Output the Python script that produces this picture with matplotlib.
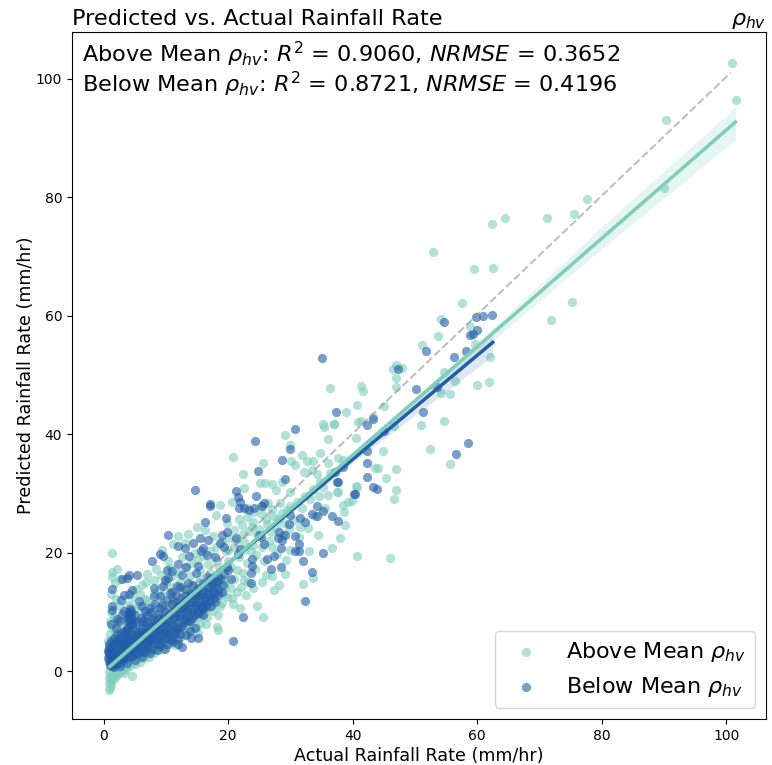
import numpy as np
import matplotlib
matplotlib.use('Agg')
import matplotlib.pyplot as plt

# values, (actual, predicted)
above_high = [(101.0,102.7),(101.5,96.5),(90.3,93.0),(90.0,81.5),(77.6,79.7),(75.6,77.2),(71.2,76.5),(75.2,62.3),(71.9,59.3),
    (64.5,76.5),(62.3,75.4),(52.9,70.8),(59.5,67.9),(62.6,68.1),(57.6,62.1),(54.2,59.4),(53.7,56.6),(51.2,55.1),(58.9,58.2),
    (59.6,55.2),(62.0,53.1),(61.9,48.8),(60.0,48.3),(56.5,49.0),(55.6,46.7),(54.2,47.0),(54.6,50.5),(47.0,51.7),(46.5,51.0),
    (47.9,51.2),(47.0,49.4),(46.9,48.0),(41.3,48.2),(41.6,47.2),(36.4,47.8),(40.7,44.9),(45.0,44.8),(39.0,43.8),(37.0,41.7),
    (41.3,42.2),(43.2,42.9),(46.6,41.4),(50.9,41.6),(54.7,42.2),(40.6,39.4),(44.9,37.2),(52.4,37.5),(55.6,35.0),(43.6,34.3),
    (44.0,34.3),(47.0,34.1),(45.3,32.6),(40.6,31.2),(46.9,30.5),(37.5,30.2),(46.6,29.0),(46.0,19.1)]
above_mid = [(20.7,36.2),(25.6,35.2),(22.3,33.2),(29.1,39.9),(30.0,38.2),(31.8,36.5),(34.7,36.8),(36.0,39.1),(35.3,41.7),(35.4,41.2),
    (37.0,41.7),(40.9,42.1),(30.1,35.4),(32.7,35.5),(33.7,35.4),(36.1,35.1),(37.7,35.9),(38.5,35.6),(30.8,34.8),(32.1,33.6),
    (33.4,34.0),(34.2,33.3),(34.8,32.0),(25.1,31.7),(25.9,31.8),(27.0,31.5),(27.6,30.5),(22.5,30.9),(28.6,32.0),(30.0,30.3),
    (36.0,29.7),(37.6,30.3),(40.7,31.1),(39.9,28.7),(39.3,28.6),(38.5,28.0),(38.6,26.9),(38.8,24.7),(38.0,22.5),(36.7,20.8),
    (40.7,19.5),(33.0,20.2),(29.3,18.7),(29.1,16.3),(33.7,15.7),(32.0,14.7),(28.1,14.5),(27.4,13.7),(25.4,15.0),(26.0,16.2),
    (27.0,16.1),(24.0,14.0),(24.7,11.0),(25.6,9.2),(18.4,9.5),(16.4,7.9),(18.2,7.5),(18.4,6.9),(15.2,6.4),(11.5,4.4),(4.6,-0.8),
    (3.2,-0.4),(18.7,28.0),(18.0,26.4),(20.6,28.6),(13.1,21.6),(9.3,20.4),(10.4,18.5),(1.3,19.9),(2.1,17.3),(1.4,16.8),(1.3,15.9),
    (1.8,14.8),(2.6,15.6),(1.1,13.0),(1.9,12.2),(2.4,11.0),(1.2,10.0),(1.7,9.2),(1.0,8.5),(23.0,26.0),(24.0,25.2),(25.5,26.5),
    (27.0,27.4),(28.3,28.3),(29.5,27.2),(26.2,24.8),(23.4,23.6),(22.2,24.6),(21.0,23.8),(19.8,25.0),(20.2,22.4),(22.5,21.8),
    (24.6,22.9),(26.5,22.0),(28.0,25.6),(30.5,25.5),(31.8,27.5),(33.2,29.0),(34.6,29.6),(32.8,24.2),(34.5,23.0),(31.4,22.6),
    (30.0,20.5),(27.8,19.8),(25.8,18.6),(23.7,20.2),(21.8,19.2),(20.5,17.5),(22.4,16.5),(24.3,17.2),(21.0,15.5),(19.5,14.2),
    (21.4,13.4),(22.8,12.8),(20.6,12.3),(19.0,11.5),(21.9,10.6),(23.2,15.0),(17.5,22.8),(16.2,23.8),(15.0,24.4),(13.5,23.2),
    (12.0,22.8),(11.2,21.4),(14.6,20.0),(12.6,19.3),(8.4,17.2),(7.0,16.4),(6.2,14.6),(5.2,13.8),(4.6,12.5),(3.8,11.2),(6.6,12.2),
    (22.4,23.2),(23.8,24.4),(25.0,24.0),(26.0,25.6),(27.2,26.2),(28.6,26.6),(30.0,27.8),(31.0,28.6),(32.4,29.6),(33.6,30.8),(35.2,31.0),
    (36.4,33.4),(24.2,26.8),(25.2,27.8),(26.4,28.4),(21.8,25.6),(23.0,27.6),(34.0,26.2),(35.6,27.6),(31.6,24.4),(28.8,23.0),(27.0,21.0)]
above_low = [(0.9,-3.2),(1.0,-2.8),(1.1,-2.4),(0.9,-2.0),(1.2,-1.6),(0.8,-1.2),(1.3,-1.0),(1.0,-0.6),(1.5,-0.3),(0.8,0.0),
    (1.9,-0.5),(2.2,0.0),(1.2,0.3),(2.8,0.2),(3.5,0.4),(4.2,0.8),(5.0,1.2),(3.0,1.0),(5.8,1.6),(6.5,2.2),(7.2,2.4),(8.0,3.0),
    (8.8,3.5),(9.6,3.8),(10.5,4.6),(11.0,5.2),(12.2,5.6),(13.0,6.2),(13.8,7.0),(14.8,7.4),(15.5,8.0),(16.6,9.2),(17.5,10.2),
    (18.6,11.0),(19.8,12.5),(6.0,3.0),(7.5,4.0),(9.0,5.0),(10.0,6.2),(11.5,7.2),(12.8,8.2),(14.0,9.0),(15.2,10.0),(16.3,11.2),
    (17.4,12.2),(18.5,13.2),(19.5,15.0),(0.8,2.0),(0.7,3.5),(0.7,5.0),(1.0,6.2),(1.3,7.2),(2.0,6.5),(2.5,8.0),(3.2,8.6),(4.0,9.5),
    (5.0,10.5),(5.8,11.0),(7.0,12.0),(8.0,13.2),(9.0,14.0),(10.0,15.0),(11.0,16.0),(12.0,16.5),(13.0,17.5),(14.0,18.2),(15.0,18.8),
    (16.0,19.5),(17.0,20.2),(18.0,21.0),(19.0,21.8),(20.0,20.5),(21.0,21.0),(8.0,10.0),(9.5,11.5),(11.0,12.5),(12.5,13.5),(14.0,14.5),
    (15.5,15.5),(17.0,16.5),(18.5,17.5),(20.0,18.5),(6.5,7.0),(5.0,6.0),(3.5,4.0),(2.0,3.0),(4.5,2.5),(7.0,5.5),(8.5,7.0),(10.0,8.5),
    (11.5,9.8),(13.0,11.0),(14.5,12.0),(16.0,13.0),(17.5,14.0),(19.0,15.5),
    (1.6,-1.4),(2.0,-0.9),(2.5,-0.4),(3.0,0.0),(3.8,0.9),(4.8,1.6),(5.6,2.2),(6.8,2.8),(7.8,3.5),(9.2,4.4),(10.2,5.2),(11.2,6.0),
    (12.4,6.8),(13.4,7.8),(14.4,8.6),(15.4,9.2),(16.2,10.0),(17.0,10.8),(18.0,12.0),(19.2,13.0),(20.4,14.0),(20.8,11.4),(22.0,14.2),
    (22.6,15.4),(21.4,17.0),(23.0,18.2),(24.5,19.6),(22.6,20.4),(24.0,21.2),(25.4,21.0),(26.8,23.4),(27.6,24.4),(29.0,25.0),
    (29.8,24.0),(21.2,22.2),(19.6,20.2),(18.2,18.8),(16.8,18.0),(15.4,17.0),(13.8,16.0),(12.2,15.0),(10.8,14.2),(9.4,12.8),(7.8,11.2),
    (6.4,9.8),(5.2,8.4),(3.8,6.8),(2.6,5.0),(1.4,4.0),(6.8,15.0),(8.0,15.4),(9.2,16.2),(10.6,17.4),(5.8,13.0),(4.4,11.0)]
below_high = [(62.3,60.1),(60.9,60.0),(59.8,59.8),(54.7,58.9),(60.0,57.5),(59.3,56.9),(58.9,56.7),(51.7,54.0),(58.2,54.1),(56.3,53.0),
    (47.3,51.0),(50.2,47.6),(53.6,48.0),(51.3,43.8),(37.3,43.8),(43.3,42.6),(42.3,41.6),(45.1,40.5),(58.6,38.5),(56.6,36.7),(42.3,37.2),
    (42.3,35.2),(38.4,34.4),(37.1,33.6),(42.3,32.8),(37.5,32.0),(43.3,31.0),(43.9,30.8),(40.2,29.9),(35.0,52.9)]
below_mid = [(30.7,40.9),(24.3,38.9),(30.0,37.5),(28.6,35.6),(24.8,33.7),(29.1,32.5),(37.6,32.0),(14.7,30.5),(21.3,30.4),(21.5,29.4),
    (24.4,29.6),(40.3,29.9),(17.0,28.2),(17.0,27.8),(21.9,28.6),(21.7,27.5),(22.5,27.5),(23.3,27.2),(24.1,27.6),(25.8,28.3),(25.4,27.9),
    (34.3,27.9),(35.3,27.1),(33.4,26.5),(34.3,26.1),(36.7,26.1),(37.6,25.4),(19.6,25.9),(16.3,25.1),(30.0,26.4),(31.6,25.8),(32.4,25.1),
    (29.7,24.8),(10.4,23.0),(15.5,22.5),(16.7,22.2),(14.4,21.6),(12.0,21.1),(13.0,20.8),(16.0,20.7),(15.7,20.3),(13.7,19.4),(9.1,19.8),
    (9.6,19.4),(16.6,19.6),(17.8,19.3),(19.0,23.0),(19.8,23.4),(18.7,21.6),(19.3,21.0),(21.3,22.5),(25.0,23.0),(25.3,22.6),(28.1,23.5),
    (28.0,22.4),(29.2,23.0),(30.7,22.8),(28.6,22.1),(25.7,21.5),(21.9,20.6),(21.5,19.8),(28.5,20.8),(31.3,21.5),(30.7,20.2),(31.3,20.3),
    (35.3,20.0),(27.4,19.5),(26.3,18.9),(23.8,19.0),(23.8,17.7),(26.9,17.3),(28.5,17.5),(32.0,18.5),(23.6,16.6),(33.4,16.8),(23.6,14.8),
    (32.4,11.9),(22.3,9.2),(20.7,5.1),(14.0,5.5),(14.7,7.2),(16.0,9.4),(12.0,18.1),(13.2,17.5),(15.2,17.8),(7.8,18.6),(10.1,17.1),
    (10.9,16.9),(12.5,16.2),(14.8,16.5),(16.8,15.9),(19.8,17.6),(18.4,15.9),(18.2,15.1),(9.9,15.4),(10.4,15.7),(11.7,14.4),(13.5,14.8),
    (8.1,14.1),(9.6,14.4),(4.1,16.2),(5.4,16.2),(3.0,15.5),(3.7,15.7),(1.4,13.9),(4.6,13.7),(4.0,13.0),(3.2,12.8),(2.7,12.0),(1.3,10.9),
    (1.4,10.3),(2.1,8.8),(5.7,11.8),(6.1,11.0)]
below_low = [(4.2,10.5),(4.0,10.0),(4.4,9.6),(4.1,9.1),(4.5,8.7),(3.9,8.3),(4.3,7.9),(4.6,7.4),(3.8,7.2),(3.2,6.8),(2.7,6.4),(2.2,6.0),
    (1.7,5.5),(1.2,5.0),(0.9,4.5),(0.8,4.0),(0.7,3.4),(0.8,2.8),(0.7,2.2),(0.9,1.6),(1.0,1.1),(1.4,0.9),(1.9,1.2),(2.4,1.4),(1.5,2.0),
    (2.0,2.4),(2.6,2.0),(3.1,1.8),(3.6,2.4),(1.6,3.0),(2.2,3.4),(2.8,3.0),(3.3,3.5),(4.0,3.0),(4.6,2.6),(5.2,2.8),(1.8,4.2),(2.5,4.5),
    (3.2,4.3),(3.8,4.0),(4.5,3.8),(5.2,3.6),(5.9,3.2),(6.4,3.6),(2.9,5.2),(3.5,5.5),(4.1,5.0),(4.8,4.6),(5.5,4.4),(6.2,4.2),(7.0,4.0),
    (7.6,4.6),(3.9,6.2),(4.6,6.0),(5.3,5.6),(6.0,5.2),(6.7,5.0),(7.4,5.2),(8.2,4.8),(8.9,4.6),(9.5,5.0),(5.0,7.0),(5.7,6.8),(6.4,6.4),
    (7.1,6.2),(7.8,6.0),(8.5,5.8),(9.2,5.8),(10.0,5.6),(10.8,5.2),(6.0,8.2),(6.8,7.8),(7.5,7.5),(8.2,7.2),(9.0,7.0),(9.8,6.8),(10.6,6.6),
    (11.4,6.4),(12.2,6.2),(7.0,9.4),(7.8,9.0),(8.6,8.6),(9.4,8.2),(10.2,8.0),(11.0,7.8),(11.8,7.5),(12.6,7.6),(6.6,10.2),(8.2,11.4),
    (9.0,10.6),(9.8,10.0),(10.6,9.6),(11.4,9.2),(12.2,9.0),(13.0,8.8),(13.8,8.5),(8.0,12.6),(9.1,12.6),(10.2,12.0),(11.0,11.4),(11.8,11.0),
    (12.6,10.6),(13.4,10.2),(14.2,10.0),(15.0,9.8),(15.8,10.4),(10.6,13.2),(11.6,12.8),(12.4,12.4),(13.2,12.0),(14.0,11.6),(14.8,11.2),
    (15.6,11.0),(16.4,10.8),(17.2,11.0),(12.2,14.2),(13.0,13.8),(13.8,13.2),(14.6,12.8),(15.4,12.4),(16.2,12.0),(17.0,12.2),(17.8,11.6),
    (14.4,14.6),(15.2,14.0),(16.0,13.6),(16.8,13.4),(17.6,13.0),(18.4,12.8),(19.0,13.4),(17.4,14.8),(18.0,14.2),(8.8,9.8),(7.4,10.6),
    (6.0,9.0),(5.3,8.2),(1.9,7.2),(1.2,8.0),(3.0,9.6),(2.4,8.4),(5.0,9.4),(3.2,10.2),(12.0,4.6),(11.2,4.9),(9.8,3.8),(8.6,3.6),(7.4,3.0),
    (6.2,2.4),(5.0,1.8),(3.8,1.4),(2.6,0.9),(1.7,0.6),(12.6,4.0),(15.2,5.6),(13.8,6.8),(20.0,17.0),(20.4,15.6),(19.4,16.4)]
below_core = [(1.1,1.4),(1.3,1.8),(1.5,1.2),(1.7,2.2),(1.9,1.6),(2.1,2.8),(2.3,2.0),(2.5,3.2),(2.7,2.4),(2.9,3.8),(3.1,2.6),(3.3,4.4),
    (3.5,3.0),(3.7,4.8),(3.9,3.4),(4.1,5.4),(4.3,3.6),(4.5,5.0),(4.7,4.2),(4.9,5.8),(5.1,4.0),(5.3,6.2),(5.5,5.0),(5.7,4.4),(5.9,6.0),
    (6.1,5.6),(6.3,4.6),(6.5,6.6),(6.7,5.6),(6.9,4.8),(7.1,7.0),(7.3,6.0),(7.5,5.4),(7.7,7.4),(7.9,6.4),(8.1,5.4),(8.3,7.8),(8.5,6.8),
    (8.7,5.2),(8.9,8.2),(9.1,7.2),(9.3,6.2),(9.5,8.8),(9.7,7.6),(9.9,6.4),(10.1,9.0),(10.3,7.4),(10.5,6.0),(10.7,9.4),(10.9,8.2),(11.1,6.8),
    (11.3,10.0),(11.5,8.6),(11.7,7.0),(11.9,10.4),(12.1,9.4),(12.3,7.4),(12.5,10.8),(12.7,9.6),(12.9,8.2),(13.1,11.2),(13.3,9.8),(13.5,8.4),
    (13.7,11.6),(13.9,10.4),(14.1,9.0),(14.3,12.2),(14.5,10.8),(14.7,9.4),(14.9,12.6),(15.1,11.2),(15.3,9.8),(15.5,13.0),(15.7,11.8),
    (15.9,10.6),(16.1,13.4),(16.3,12.4),(16.5,11.4),(16.7,14.2),(16.9,12.8),(17.1,11.8),(17.3,14.6),(17.5,13.4),(17.7,12.4),(18.1,15.2),
    (18.3,13.6),(18.7,15.6),(19.1,14.6),(3.0,5.8),(3.4,6.4),(3.6,6.8),(4.0,7.4),(4.2,8.4),(4.4,9.0),(4.0,9.6),(4.3,10.2),(3.8,9.0),(4.6,8.0),
    (1.2,3.4),(1.4,4.0),(1.0,2.4),(0.9,3.2),(1.6,4.6),(2.0,5.0),(2.4,5.4),(2.8,4.6),(3.4,2.2),(4.2,2.4),(5.4,3.0),(6.6,3.2),(7.8,3.8),(9.0,4.2),
    (10.2,4.6),(11.0,5.6),(12.0,5.4),(13.2,6.0),(6.2,7.2),(7.0,8.2),(8.0,8.6),(8.8,9.0),(9.6,9.2),(10.4,10.4),(11.2,11.8),(12.0,11.6),(13.0,12.6),
    (14.0,13.0),(15.0,13.4),(16.0,14.8),(17.0,15.6),(11.0,13.4),(9.4,11.2),(7.6,10.0),(6.4,8.6)]

# fit lines and 95% bands
above_line_x = [1.0, 101.5]
above_line_y = [0.8, 92.7]
above_band_x = [1.0, 30.0, 60.0, 80.0, 101.5]
above_band_lo = [0.4, 27.0, 53.6, 71.3, 89.7]
above_band_hi = [1.2, 27.9, 55.4, 75.0, 95.2]
below_line_x = [1.0, 62.5]
below_line_y = [1.5, 55.5]
below_band_x = [1.0, 20.0, 40.0, 62.5]
below_band_lo = [1.0, 18.0, 35.2, 53.2]
below_band_hi = [2.0, 18.7, 36.6, 57.0]
ref_x = [0.5, 100.7]
ref_y = [0.5, 101.0]

x_ticks = [0, 20, 40, 60, 80, 100]
green = '#7fcdbb'
blue = '#225ea8'

above = np.array(above_high + above_mid + above_low)
below = np.array(below_high + below_mid + below_low + below_core)

fig = plt.figure(figsize=(7.72, 7.65), dpi=100)
ax = fig.add_axes([72 / 772, 46 / 765, 694 / 772, 687 / 765])

ax.scatter(above[:, 0], above[:, 1], s=44, color=green, alpha=0.6, linewidths=0, label=r'Above Mean $\rho_{hv}$')
ax.scatter(below[:, 0], below[:, 1], s=44, color=blue, alpha=0.6, linewidths=0, label=r'Below Mean $\rho_{hv}$')

ax.plot(ref_x, ref_y, color='gray', alpha=0.5, ls='--', lw=1.5)
ax.fill_between(below_band_x, below_band_lo, below_band_hi, color=blue, alpha=0.15, lw=0)
ax.plot(below_line_x, below_line_y, color=blue, lw=2.5)
ax.fill_between(above_band_x, above_band_lo, above_band_hi, color=green, alpha=0.2, lw=0)
ax.plot(above_line_x, above_line_y, color=green, lw=2.5)

ax.set_xlim(-5.1, 106.4)
ax.set_ylim(-8.1, 107.9)
ax.set_xticks(x_ticks)
ax.set_xlabel('Actual Rainfall Rate (mm/hr)', fontsize=12.6, labelpad=3)
ax.set_ylabel('Predicted Rainfall Rate (mm/hr)', fontsize=12.6, labelpad=1)
ax.set_title('Predicted vs. Actual Rainfall Rate', loc='left', fontsize=16.1, pad=6)
ax.set_title(r'$\rho_{hv}$', loc='right', fontsize=16, pad=5)

ax.text(0.015, 0.967, r'Above Mean $\rho_{hv}$: $R^2$ = 0.9060, $NRMSE$ = 0.3652', transform=ax.transAxes,
        fontsize=16.1, va='center')
ax.text(0.015, 0.924, r'Below Mean $\rho_{hv}$: $R^2$ = 0.8721, $NRMSE$ = 0.4196', transform=ax.transAxes,
        fontsize=16.1, va='center')
ax.legend(loc='lower right', fontsize=16)

fig.savefig('out.png', dpi=100)
